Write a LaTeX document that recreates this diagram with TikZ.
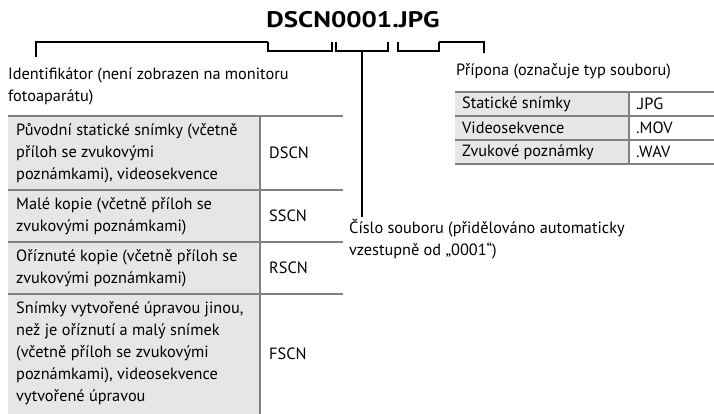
\documentclass[tikz,border=0pt]{standalone}
\usepackage{fontspec}
\setmainfont{PT Sans}
\newfontfamily\titlefont[FakeStretch=1.2]{PT Sans}
\definecolor{rulegray}{RGB}{128,128,128}
\definecolor{cellgray}{RGB}{230,230,230}
\begin{document}
\begin{tikzpicture}[x=1pt,y=-1pt,
  txt/.style={font=\fontsize{16.3}{22}\selectfont, inner sep=0pt, align=left, anchor=north west},
  code/.style={font=\fontsize{16.3}{22}\selectfont, inner sep=0pt, anchor=west},
  rule/.style={draw=rulegray, line width=2.5pt},
  brk/.style={draw=black, line width=1.4pt},
  ]
\useasboundingbox (0,0) rectangle (714,414);

% title
\node[font=\titlefont\bfseries\fontsize{22.5}{26}\selectfont, anchor=base, inner sep=0pt] (title) at (353,28) {DSCN0001.JPG};

% brackets
\coordinate (b1a) at (268,42); \coordinate (b1b) at (332,42);
\coordinate (b2a) at (336,42); \coordinate (b2b) at (388,42);
\coordinate (b3a) at (398,42); \coordinate (b3b) at (439,42);
\coordinate (b2m) at (362,51);
\coordinate (identtop) at (36,42);
\coordinate (extcorner) at (484,42);

\draw[brk] (b1a) -- ++(0,9) -| (b1b);
\draw[brk] (b2a) -- ++(0,9) -| (b2b);
\draw[brk] (b3a) -- ++(0,9) -| (b3b);

% labels
\node[txt] (ident) at (8,68) {Identifikátor (není zobrazen na monitoru\\fotoaparátu)};
\node[txt] (ext) at (456,63) {Přípona (označuje typ souboru)};
\node[txt] (num) at (349,219) {Číslo souboru (přidělováno automaticky\\vzestupně od „0001“)};

% leaders
\draw[brk, shorten >=11pt] (b1a) -- (identtop) -- (identtop |- ident.north);
\draw[brk, shorten >=2pt] (b2m) -- (b2m |- num.north);
\draw[brk, shorten >=10pt] (b3b) -- (extcorner) -- (extcorner |- ext.north);

% left table
\fill[cellgray] (8,116) rectangle (260,414);
\draw[rule] (8,116) -- (343,116);
\draw[rule] (8,190) -- (343,190);
\draw[rule] (8,242) -- (343,242);
\draw[rule] (8,294) -- (343,294);
\draw[rule] (260,116) -- (260,414);

\node[txt] (l1) at (16,123) {Původní statické snímky (včetně\\příloh se zvukovými\\poznámkami), videosekvence};
\node[txt] (l2) at (16,197) {Malé kopie (včetně příloh se\\zvukovými poznámkami)};
\node[txt] (l3) at (16,249) {Oříznuté kopie (včetně příloh se\\zvukovými poznámkami)};
\node[txt] (l4) at (16,301) {Snímky vytvořené úpravou jinou,\\než je oříznutí a malý snímek\\(včetně příloh se zvukovými\\poznámkami), videosekvence\\vytvořené úpravou};
\node[code] (c1) at (269,153) {DSCN};
\node[code] (c2) at (269,216) {SSCN};
\node[code] (c3) at (269,268) {RSCN};
\node[code] (c4) at (269,354) {FSCN};

% right table
\fill[cellgray] (455,92) rectangle (629,164);
\draw[rule] (455,92) -- (714,92);
\draw[rule] (455,116) -- (714,116);
\draw[rule] (455,140) -- (714,140);
\draw[rule] (455,164) -- (714,164);
\draw[rule] (629,92) -- (629,164);

\node[code] (r1) at (462,104) {Statické snímky};
\node[code] (r2) at (462,128) {Videosekvence};
\node[code] (r3) at (462,152) {Zvukové poznámky};
\node[code] (e1) at (636,104) {.JPG};
\node[code] (e2) at (636,128) {.MOV};
\node[code] (e3) at (636,152) {.WAV};
\end{tikzpicture}
\end{document}
